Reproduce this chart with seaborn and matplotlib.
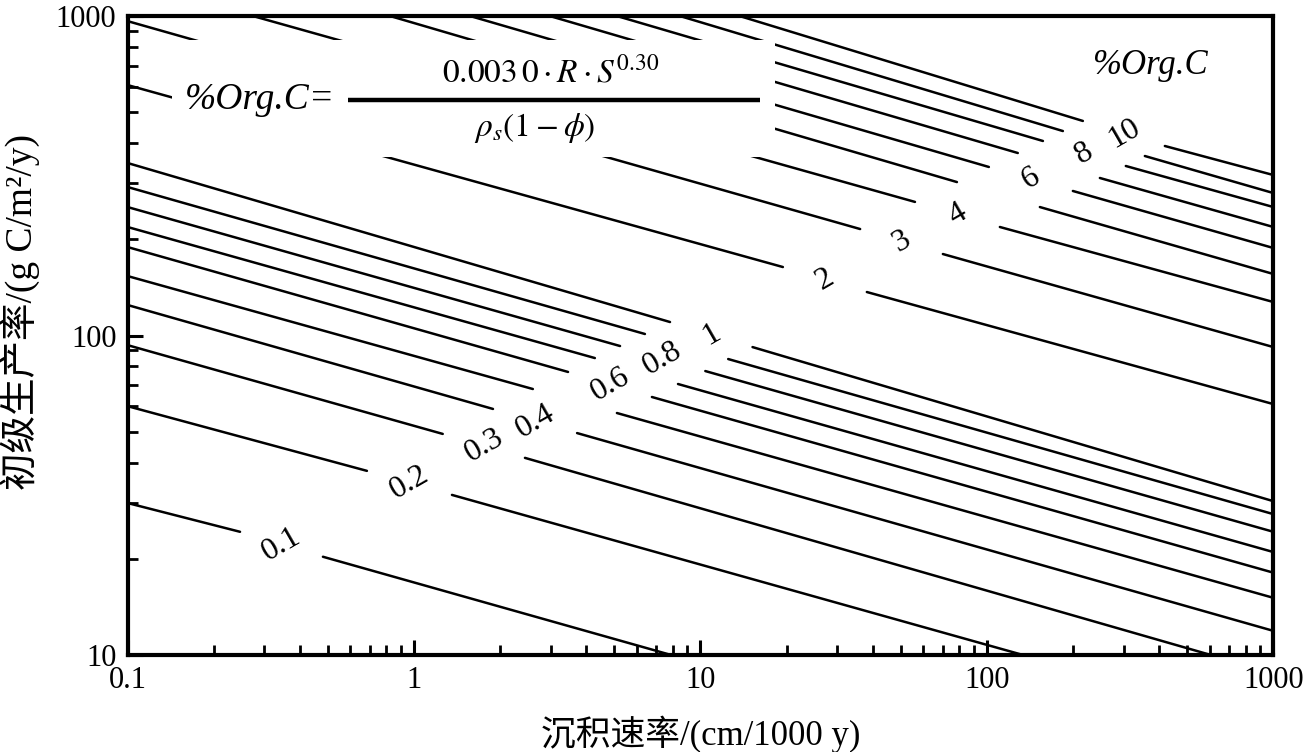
import numpy as np
import pandas as pd
import matplotlib
matplotlib.use("Agg")
import matplotlib.pyplot as plt
import seaborn as sns
from matplotlib import ticker
from matplotlib.patches import Rectangle

# %Org.C contour levels and which of them carry a label
levels = [0.1, 0.2, 0.3, 0.4, 0.5, 0.6, 0.7, 0.8, 0.9, 1, 2, 3, 4, 5, 6, 7, 8, 9, 10]
label_levels = [0.1, 0.2, 0.3, 0.4, 0.6, 0.8, 1, 2, 3, 4, 6, 8, 10]

# each line: start point, both ends of the label gap, end point
# S = sedimentation rate (cm/1000 y), R = primary productivity (g C/m2/y)
start_S = [0.1, 0.1, 0.1, 0.1, 0.1, 0.1, 0.1, 0.1, 0.1, 0.1, 0.1, 0.1,
           0.274, 0.825, 1.57, 2.98, 5.11, 8.48, 13.7]
start_R = [29.9, 60.1, 93.3, 124.6, 153.5, 189.2, 218.6, 252.4, 291.6, 346.7, 608, 964,
           1000, 1000, 1000, 1000, 1000, 1000, 1000]
gap_lo_S = [0.247, 0.685, 1.26, 1.887, 2.60, 3.45, 4.28, 5.24, 6.40, 7.83, 19.4, 36.1,
            56.1, 78.6, 101.6, 128.2, 156.9, 184.2, 216.3]
gap_lo_R = [24.3, 37.7, 49.2, 58.9, 68.0, 76.9, 85.0, 92.7, 101.1, 110.2, 163.8, 215.4,
            261.9, 302.2, 336.9, 372.6, 406.3, 436.5, 469.4]
gap_hi_S = [0.481, 1.357, 2.44, 3.71, 5.11, 6.77, 8.35, 10.4, 12.5, 15.2, 38.1, 70.2,
            111.0, 153.1, 199.6, 248.0, 305.5, 356.0, 418.1]
gap_hi_R = [20.3, 31.7, 41.4, 49.5, 57.2, 64.2, 70.5, 77.4, 84.4, 92.0, 136.8, 179.9,
            218.6, 252.4, 283.4, 311.2, 339.3, 364.6, 391.9]
end_S = [7.9, 133.7, 605, 1000, 1000, 1000, 1000, 1000, 1000, 1000, 1000, 1000,
         1000, 1000, 1000, 1000, 1000, 1000, 1000]
end_R = [10, 10, 10, 11.9, 15.1, 18.1, 21.0, 24.3, 27.6, 30.3, 61.0, 92.0,
         127.3, 155.8, 187.9, 218.6, 252.4, 279.2, 317.9]

xticks = [0.1, 1, 10, 100, 1000]
yticks = [10, 100, 1000]

rows = []
for i, lev in enumerate(levels):
    rows.append((f"{lev}a", start_S[i], start_R[i]))
    rows.append((f"{lev}a", gap_lo_S[i], gap_lo_R[i]))
    rows.append((f"{lev}b", gap_hi_S[i], gap_hi_R[i]))
    rows.append((f"{lev}b", end_S[i], end_R[i]))
df = pd.DataFrame(rows, columns=["seg", "S", "R"])

sns.set_style("ticks")
plt.rcParams["font.family"] = ["Liberation Serif", "Noto Sans CJK SC"]
plt.rcParams["mathtext.fontset"] = "stix"
plt.rcParams["axes.edgecolor"] = "black"
plt.rcParams["xtick.color"] = "black"
plt.rcParams["ytick.color"] = "black"
plt.rcParams["text.color"] = "black"
plt.rcParams["axes.labelcolor"] = "black"

fig = plt.figure(figsize=(13.08, 7.52), dpi=100)
ax = fig.add_axes([0.0975, 0.129, 0.876, 0.8497])
ax.set_xscale("log")
ax.set_yscale("log")

sns.lineplot(data=df, x="S", y="R", units="seg", estimator=None, sort=False,
             color="black", linewidth=1.8, legend=False, ax=ax)

ax.set_xlim(0.1, 1000)
ax.set_ylim(10, 1000)

# contour labels in the gaps
for lev in label_levels:
    i = levels.index(lev)
    s = np.sqrt(gap_lo_S[i] * gap_hi_S[i])
    r = np.sqrt(gap_lo_R[i] * gap_hi_R[i])
    ax.text(s, r, f"{lev:g}", rotation=30, ha="center", va="center",
            fontsize=23, rotation_mode="anchor")

# formula box (lines are hidden behind it)
ax.add_patch(Rectangle((0.0388, 0.7793), 0.526, 0.1831, transform=ax.transAxes,
                       facecolor="white", edgecolor="none", zorder=3))
ax.text(0.050, 0.8685, "%Org.C=", style="italic", transform=ax.transAxes,
        ha="left", va="center", fontsize=27, zorder=4)
ax.plot([0.1924, 0.5519], [0.8685, 0.8685], transform=ax.transAxes, color="black",
        lw=3.2, solid_capstyle="butt", zorder=4)
ax.text(0.3696, 0.911, r"$0.003\,0\cdot R\cdot S^{0.30}$", transform=ax.transAxes,
        ha="center", va="center", fontsize=24, zorder=4)
ax.text(0.3556, 0.8247, r"$\rho_s(1-\phi)$", transform=ax.transAxes,
        ha="center", va="center", fontsize=24, zorder=4)
ax.text(0.8923, 0.9233, "%Org.C", style="italic", transform=ax.transAxes,
        ha="center", va="center", fontsize=25, zorder=4)

ax.set_xticks(xticks)
ax.set_yticks(yticks)
fmt = ticker.FuncFormatter(lambda v, p: f"{v:g}")
ax.xaxis.set_major_formatter(fmt)
ax.yaxis.set_major_formatter(fmt)
ax.xaxis.set_minor_formatter(ticker.NullFormatter())
ax.yaxis.set_minor_formatter(ticker.NullFormatter())
ax.tick_params(which="major", direction="in", length=11, width=2.2, labelsize=22, pad=8)
ax.tick_params(which="minor", direction="in", length=7, width=2.0)
ax.tick_params(which="both", top=False, right=False)
for sp in ax.spines.values():
    sp.set_linewidth(3)
    sp.set_visible(True)

ax.set_xlabel("沉积速率/(cm/1000 y)", fontsize=25)
ax.set_ylabel("初级生产率/(g C/m²/y)", fontsize=27)
ax.xaxis.set_label_coords(0.5, -0.095)
ax.yaxis.set_label_coords(-0.076, 0.537)

fig.savefig("out.png", dpi=100)
